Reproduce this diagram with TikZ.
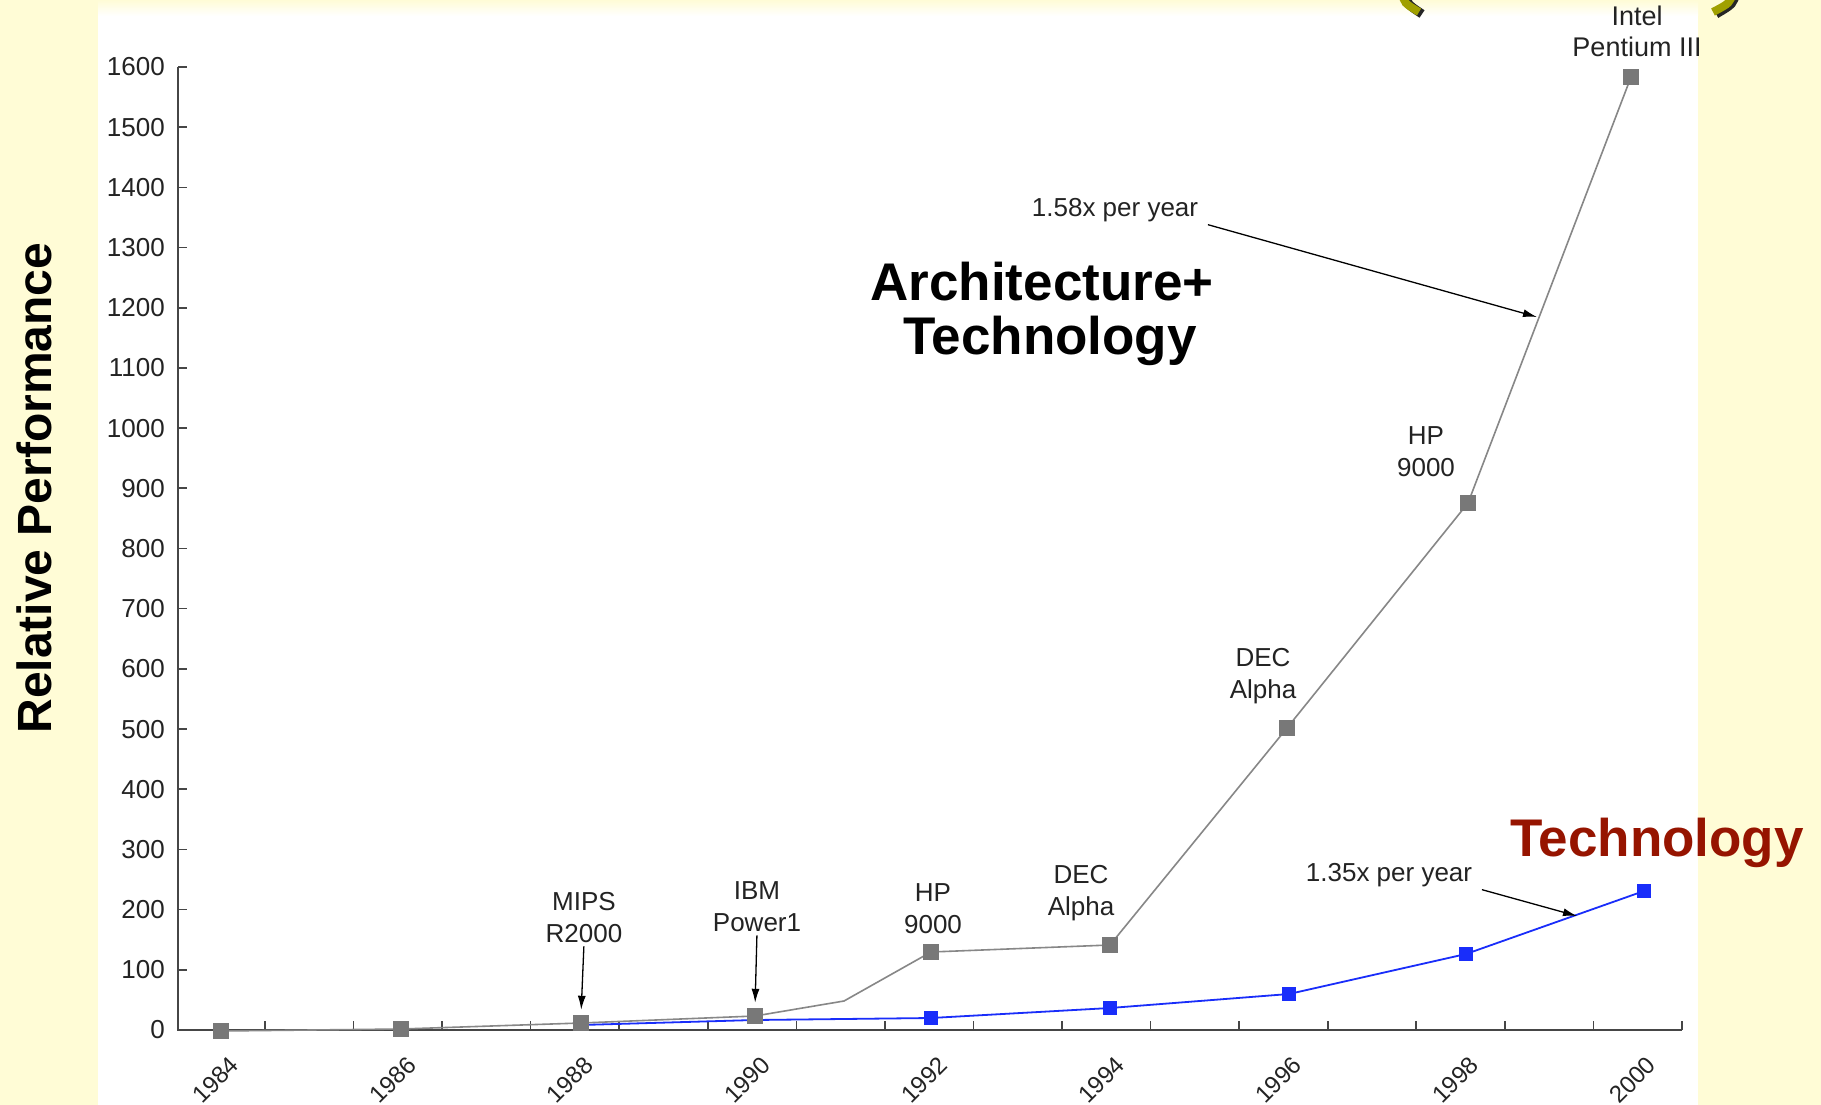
\documentclass[tikz,border=0pt]{standalone}
\usepackage{fontspec}
\setmainfont{Liberation Sans}
\usetikzlibrary{arrows.meta}

\definecolor{slidebg}{RGB}{255,252,214}
\definecolor{charttext}{RGB}{35,35,35}
\definecolor{axisgray}{RGB}{70,70,70}
\definecolor{linegray}{RGB}{135,135,135}
\definecolor{markgray}{RGB}{120,120,120}
\definecolor{techblue}{RGB}{25,45,250}
\definecolor{techred}{RGB}{150,20,0}
\definecolor{bracketolive}{RGB}{160,160,0}

\begin{document}
\begin{tikzpicture}[x=1pt,y=-1pt,
  chart/.style={font=\fontsize{26}{32}\selectfont, text=charttext},
  lbl/.style={chart, align=center, inner sep=0pt},
  ytick/.style={chart, anchor=east, inner sep=0pt},
  yearlbl/.style={chart, font=\fontsize{24}{28}\selectfont, rotate=45, inner sep=0pt},
  axisline/.style={draw=axisgray, line width=2pt},
  tickline/.style={draw=axisgray, line width=1.6pt},
  archline/.style={draw=linegray, line width=1.6pt, line join=round},
  techline/.style={draw=techblue, line width=1.8pt, line join=round},
  archmark/.style={fill=markgray, minimum size=16pt, inner sep=0pt},
  techmark/.style={fill=techblue, minimum size=14pt, inner sep=0pt},
  ptr/.style={draw=black, line width=1.3pt, -{Latex[length=14pt,width=8pt]}},
  headline/.style={font=\fontsize{53}{54}\selectfont\bfseries, inner sep=0pt, anchor=base},
]

\useasboundingbox (0,0) rectangle (1821,1105);

% slide background and white chart panel
\fill[slidebg] (0,0) rectangle (1821,1105);
\fill[white] (98,10) rectangle (1698,1105);
\shade[top color=slidebg, bottom color=white] (98,0) rectangle (1698,16);

% lower ends of the title brackets
\draw[line width=9pt, black!85] (1405,-8) .. controls (1407,4) .. (1422,14);
\draw[line width=8pt, bracketolive] (1402,-8) .. controls (1404,3) .. (1419,12);
\draw[line width=9pt, black!85] (1736,-8) .. controls (1733,4) .. (1716,14);
\draw[line width=8pt, bracketolive] (1733,-8) .. controls (1730,3) .. (1713,12);

% axes
\coordinate (ytop) at (178,67);
\coordinate (origin) at (178,1030);
\coordinate (xend) at (1682,1030);
\draw[axisline] (ytop) -- (origin) -- (xend);

\foreach \v in {0,100,...,1600} {
  \pgfmathsetmacro\yy{1030-0.6019*\v}
  \draw[tickline] (178,\yy) -- (187,\yy);
  \node[ytick] (yl\v) at (165,\yy) {\v};
}
\foreach \k in {0,...,16} {
  \pgfmathsetmacro\xx{220.7+(\k+0.5)*88.56}
  \draw[tickline] (\xx,1030) -- (\xx,1021);
}
\foreach \yr in {1984,1986,...,2000} {
  \pgfmathsetmacro\xx{220.7+(\yr-1984)*88.56-5}
  \node[yearlbl] (yr\yr) at (\xx,1080) {\yr};
}

% axis title
\node[rotate=90, font=\fontsize{48}{50}\selectfont\bfseries, inner sep=0pt] (ytitle) at (34,488) {Relative Performance};

% data points: architecture + technology
\coordinate (g84) at (221,1031);
\coordinate (g86) at (401,1029);
\coordinate (g88) at (581,1023);
\coordinate (g90) at (755,1016);
\coordinate (g91) at (844,1001);
\coordinate (g92) at (931,952);
\coordinate (g94) at (1110,945);
\coordinate (g96) at (1287,728);
\coordinate (g98) at (1468,503);
\coordinate (g00) at (1631,77);

% data points: technology only
\coordinate (b88) at (581,1025);
\coordinate (b90) at (755,1020);
\coordinate (b92) at (931,1018);
\coordinate (b94) at (1110,1008);
\coordinate (b96) at (1289,994);
\coordinate (b98) at (1466,954);
\coordinate (b00) at (1644,891);

\draw[archline] (g84) -- (g86) -- (g88) -- (g90) -- (g91) -- (g92) -- (g94) -- (g96) -- (g98) -- (g00);
\draw[techline] (b88) -- (b90) -- (b92) -- (b94) -- (b96) -- (b98) -- (b00);

\foreach \p in {84,86,88,90,92,94,96,98,00} {
  \node[archmark] (m\p) at (g\p) {};
}
\foreach \p in {92,94,96,98,00} {
  \node[techmark] (t\p) at (b\p) {};
}

% processor labels
\node[lbl] (mips) at (584,918) {MIPS\\R2000};
\node[lbl] (ibm) at (757,907) {IBM\\Power1};
\node[lbl] (hpa) at (933,909) {HP\\9000};
\node[lbl] (deca) at (1081,893) {DEC\\Alpha};
\node[lbl] (decb) at (1263,676) {DEC\\Alpha};
\node[lbl] (hpb) at (1426,452) {HP\\9000};
\begin{scope}
  \clip (98,0) rectangle (1698,1105);
  \node[lbl, font=\fontsize{27}{31}\selectfont] (intel) at (1637,31) {Intel\\Pentium III};
\end{scope}

\draw[ptr, shorten <=3pt, shorten >=5pt] (mips.south) -- (m88.north);
\draw[ptr, shorten <=3pt, shorten >=5pt] (ibm.south) -- (m90.north);

% growth rates
\node[chart, inner sep=0pt] (r158) at (1115,210) {1.58x per year};
\coordinate (a158) at (1537,317);
\draw[ptr, shorten <=10pt] (r158.south east) -- (a158);

\node[chart, inner sep=0pt] (r135) at (1389,875) {1.35x per year};
\coordinate (a135) at (1577,916);
\draw[ptr, shorten <=10pt] (r135.south east) -- (a135);

% series captions
\node[headline] (arch1) at (1042,300) {Architecture+};
\node[headline] (arch2) at (1050,354) {Technology};
\node[headline, text=techred] (tech) at (1657,856) {Technology};

\end{tikzpicture}
\end{document}
